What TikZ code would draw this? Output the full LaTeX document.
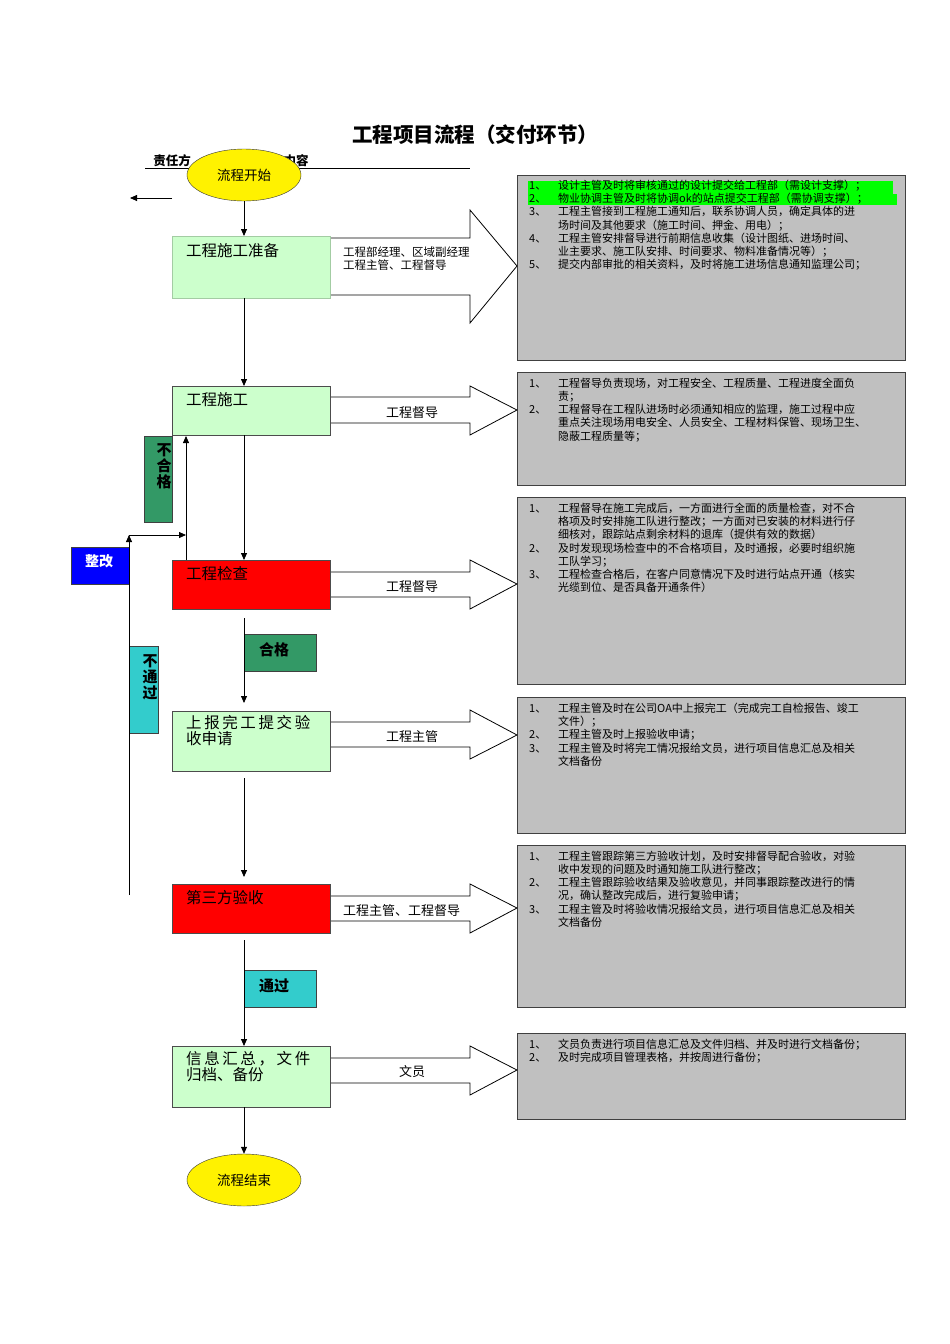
\documentclass[tikz,border=0pt]{standalone}
\usepackage{fontspec}
\setmainfont{Liberation Sans}
\newfontfamily\cjk{Noto Sans CJK SC}
\usetikzlibrary{shapes.geometric,arrows.meta}
\definecolor{boxgreen}{RGB}{204,255,204}
\definecolor{dgreen}{RGB}{51,153,102}
\definecolor{cyanb}{RGB}{51,204,204}
\definecolor{grayb}{RGB}{192,192,192}
\definecolor{hl}{RGB}{0,255,0}
\newcommand{\fatarr}[6]{%
  \draw[fill=white,line width=0.8pt] (330,-#3) -- (470,-#3) -- (470,-#2) -- (517,-#1) -- (470,-#6) -- (470,-#5) -- (330,-#5);}
\begin{document}
\begin{tikzpicture}[x=1pt,y=1pt,
  stepbox/.style={draw=black!70,line width=0.8pt,minimum width=158pt,anchor=north west,inner sep=0pt},
  stxt/.style={font=\cjk\fontsize{15.5}{16.5}\selectfont,anchor=north west,align=left,inner sep=0pt},
  gbox/.style={draw=black!75,line width=1pt,fill=grayb},
  tag/.style={draw=black!75,line width=0.8pt},
  lab/.style={font=\cjk\fontsize{13}{14}\selectfont},
  oval/.style={ellipse,draw=black!80,fill=yellow,minimum width=114pt,minimum height=52pt,font=\cjk\fontsize{13.5}{15}\selectfont,inner sep=0pt},
  fl/.style={-{Triangle[length=7pt,width=6pt]},line width=0.8pt}]
\useasboundingbox (0,0) rectangle (950,-1344);
\fill[white] (0,0) rectangle (950,-1344);
\node[font=\cjk\bfseries\fontsize{20.5}{22}\selectfont] (title) at (475,-135) {工程项目流程（交付环节）};
\node[font=\cjk\bfseries\fontsize{12.5}{13}\selectfont] (hA) at (172,-161) {责任方};
\node[font=\cjk\bfseries\fontsize{12.5}{13}\selectfont] (hB) at (296,-161) {内容};
\draw[line width=0.8pt] (145,-168) -- (470,-168);
\coordinate (la) at (172,-198); \coordinate (lb) at (130,-198);
\draw[fl] (la) -- (lb);
\node[oval] (start) at (244,-175) {流程开始};
% gray boxes
\draw[gbox] (517,-175) rectangle (905,-360);
\draw[gbox] (517,-372) rectangle (905,-485);
\draw[gbox] (517,-497) rectangle (905,-684);
\draw[gbox] (517,-697) rectangle (905,-833);
\draw[gbox] (517,-845) rectangle (905,-1007);
\draw[gbox] (517,-1033) rectangle (905,-1119);
\fill[hl] (528,-181) rectangle (893,-193.5);
\fill[hl] (528,-193.5) rectangle (897,-205);
\tikzset{lst/.style={anchor=north west,inner sep=0pt,font=\cjk\fontsize{11}{12.7}\selectfont}}
\newcommand{\lst}[2]{\node[lst] at (529,-#1) {\begin{tabular}{@{}p{29pt}@{}l@{}}#2\end{tabular}};}
\lst{180}{1、&设计主管及时将审核通过的设计提交给工程部（需设计支撑）；\\2、&物业协调主管及时将协调ok的站点提交工程部（需协调支撑）；\\3、&工程主管接到工程施工通知后，联系协调人员，确定具体的进\\&场时间及其他要求（施工时间、押金、用电）；\\4、&工程主管安排督导进行前期信息收集（设计图纸、进场时间、\\&业主要求、施工队安排、时间要求、物料准备情况等）；\\5、&提交内部审批的相关资料，及时将施工进场信息通知监理公司；}
\lst{378}{1、&工程督导负责现场，对工程安全、工程质量、工程进度全面负\\&责；\\2、&工程督导在工程队进场时必须通知相应的监理，施工过程中应\\&重点关注现场用电安全、人员安全、工程材料保管、现场卫生、\\&隐蔽工程质量等；}
\lst{503}{1、&工程督导在施工完成后，一方面进行全面的质量检查，对不合\\&格项及时安排施工队进行整改；一方面对已安装的材料进行仔\\&细核对，跟踪站点剩余材料的退库（提供有效的数据）\\2、&及时发现现场检查中的不合格项目，及时通报，必要时组织施\\&工队学习；\\3、&工程检查合格后，在客户同意情况下及时进行站点开通（核实\\&光缆到位、是否具备开通条件）}
\lst{703}{1、&工程主管及时在公司OA中上报完工（完成完工自检报告、竣工\\&文件）；\\2、&工程主管及时上报验收申请；\\3、&工程主管及时将完工情况报给文员，进行项目信息汇总及相关\\&文档备份}
\lst{851}{1、&工程主管跟踪第三方验收计划，及时安排督导配合验收，对验\\&收中发现的问题及时通知施工队进行整改；\\2、&工程主管跟踪验收结果及验收意见，并同事跟踪整改进行的情\\&况，确认整改完成后，进行复验申请；\\3、&工程主管及时将验收情况报给文员，进行项目信息汇总及相关\\&文档备份}
\lst{1039}{1、&文员负责进行项目信息汇总及文件归档、并及时进行文档备份；\\2、&及时完成项目管理表格，并按周进行备份；}
\fatarr{266}{210}{238}{252}{295}{323}
\fatarr{410}{386}{397}{410}{423}{435}
\fatarr{584}{560}{572}{584}{597}{609}
\fatarr{735}{710}{722}{735}{747}{759}
\fatarr{908}{884}{896}{908}{921}{933}
\fatarr{1070}{1046}{1058}{1070}{1083}{1095}
\node[anchor=west,align=left,inner sep=0pt,font=\cjk\fontsize{11.5}{13}\selectfont] (r1) at (343,-259) {工程部经理、区域副经理\\工程主管、工程督导};
\node[lab] (r2) at (412,-413) {工程督导};
\node[lab] (r3) at (412,-587) {工程督导};
\node[lab] (r4) at (412,-737) {工程主管};
\node[lab,anchor=west,inner sep=0pt] (r5) at (343,-911) {工程主管、工程督导};
\node[lab] (r6) at (412,-1072) {文员};
% steps
\node[stepbox,fill=boxgreen,draw=boxgreen!80!black,minimum height=62pt] (s1) at (172,-236) {};
\node[stxt] at (186,-243) {工程施工准备};
\node[stepbox,fill=boxgreen,minimum height=49pt] (s2) at (172,-386) {};
\node[stxt] at (186,-392) {工程施工};
\node[stepbox,fill=red,minimum height=49pt] (s3) at (172,-560) {};
\node[stxt] at (186,-566) {工程检查};
\node[stepbox,fill=boxgreen,minimum height=60pt] (s4) at (172,-711) {};
\node[stxt] at (186,-715) {上\kern2.6pt 报\kern2.6pt 完\kern2.6pt 工\kern2.6pt 提\kern2.6pt 交\kern2.6pt 验\\收申请};
\node[stepbox,fill=red,minimum height=49pt] (s5) at (172,-884) {};
\node[stxt] at (186,-890) {第三方验收};
\node[stepbox,fill=boxgreen,minimum height=61pt] (s6) at (172,-1046) {};
\node[stxt] at (186,-1051) {信\kern2.6pt 息\kern2.6pt 汇\kern2.6pt 总\kern2.6pt ，\kern2.6pt 文\kern2.6pt 件\\归档、备份};
\node[oval] (end) at (244,-1180) {流程结束};
% tags
\node[tag,fill=dgreen,minimum width=28pt,minimum height=86pt,inner sep=0pt,anchor=north west] (t1) at (144,-436) {};
\node[font=\cjk\bfseries\fontsize{15}{16}\selectfont,anchor=north,align=center] at (164,-440) {不\\合\\格};
\node[tag,fill=blue,minimum width=58pt,minimum height=37pt,anchor=north west] (t2) at (71,-547) {};
\node[font=\cjk\bfseries\fontsize{14}{15}\selectfont,text=white] at (99,-561) {整改};
\node[tag,fill=dgreen,minimum width=72pt,minimum height=37pt,anchor=north west] (t3) at (244,-634) {};
\node[font=\cjk\bfseries\fontsize{15}{16}\selectfont] at (274,-650) {合格};
\node[tag,fill=cyanb,minimum width=29pt,minimum height=87pt,anchor=north west] (t4) at (129,-646) {};
\node[font=\cjk\bfseries\fontsize{15}{16}\selectfont,anchor=north,align=center] at (150,-651) {不\\通\\过};
\node[tag,fill=cyanb,minimum width=72pt,minimum height=37pt,anchor=north west] (t5) at (244,-970) {};
\node[font=\cjk\bfseries\fontsize{15}{16}\selectfont] at (274,-986) {通过};
% flow
\coordinate (c1) at (244,-618); \coordinate (c2) at (244,-778); \coordinate (c3) at (244,-940);
\draw[fl] (start.south) -- (s1.north -| start.south);
\draw[fl] (244,-298) coordinate (d1) -- (244,-386) coordinate (d2);
\draw[fl] (244,-435) coordinate (d3) -- (244,-560) coordinate (d4);
\draw[fl] (c1) -- (244,-703) coordinate (d5);
\draw[fl] (c2) -- (244,-877) coordinate (d6);
\draw[fl] (c3) -- (s6.north -| c3);
\draw[fl] (244,-1107) coordinate (d7) -- (end.north);
% loop
\coordinate (l1) at (129,-895); \coordinate (l2) at (129,-535); \coordinate (l3) at (186,-535);
\coordinate (l4) at (186,-560); \coordinate (l5) at (186,-436);
\draw[fl] (l1) -- (l2);
\draw[fl] (l2) -- (l3);
\draw[fl] (l4) -- (l5);
\end{tikzpicture}
\end{document}
